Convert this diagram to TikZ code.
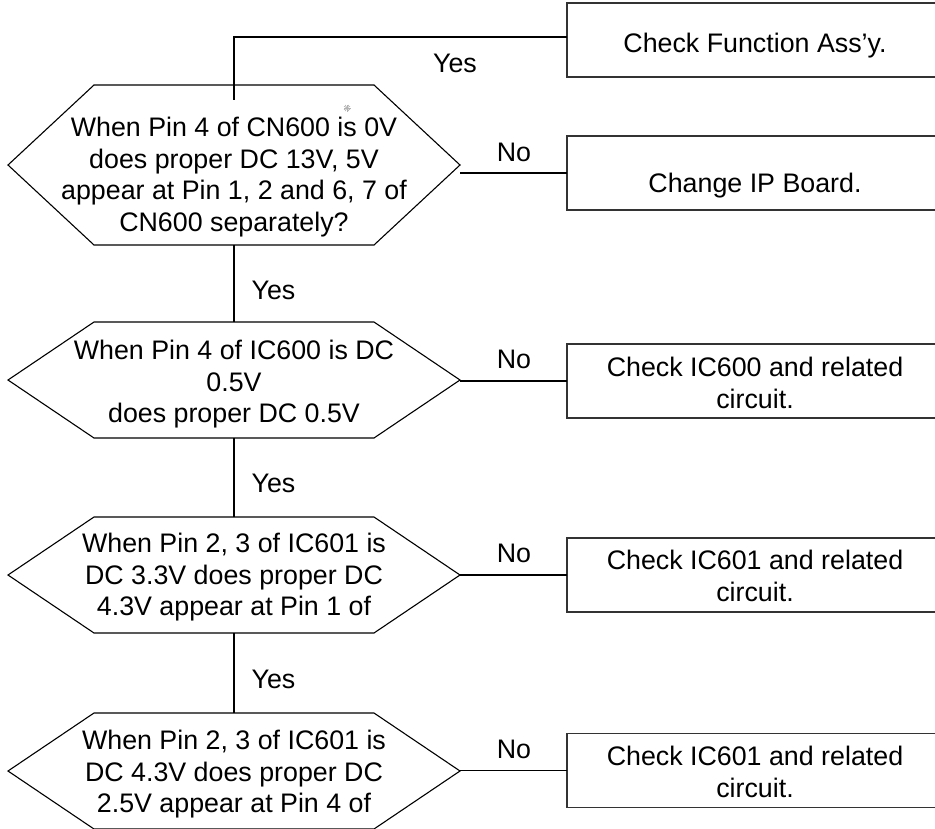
\documentclass[tikz,border=0pt]{standalone}
\usepackage{fontspec}
\setmainfont{Liberation Sans}
\usetikzlibrary{calc}
\newcommand{\hexshape}[1]{%
  \draw[hexline] (#1.west) -- ($(#1.north west)+(86,0)$) -- ($(#1.north east)+(-86,0)$) -- (#1.east)
    -- ($(#1.south east)+(-86,0)$) -- ($(#1.south west)+(86,0)$) -- cycle;}
\begin{document}
\begin{tikzpicture}[x=1pt,y=-1pt,
  hexbox/.style={minimum width=452pt, inner sep=0pt, outer sep=0pt},
  hexline/.style={draw=black, line width=1.1pt, line join=miter},
  actbox/.style={draw=black!80, line width=1.4pt, minimum width=376pt, minimum height=74pt, inner sep=0pt, outer sep=0pt},
  txt/.style={font=\fontsize{26.8pt}{31.5pt}\selectfont, align=center, inner sep=0pt, anchor=north},
  lbl/.style={font=\fontsize{26.8pt}{31.5pt}\selectfont, inner sep=0pt, anchor=base},
  conn/.style={draw=black, line width=1.1pt}]
\useasboundingbox (0,0) rectangle (935,828);

% decision shapes
\node[hexbox, minimum height=160pt] (h1) at (234,165) {};
\node[hexbox, minimum height=116pt] (h2) at (234,380) {};
\node[hexbox, minimum height=116pt] (h3) at (234,575) {};
\node[hexbox, minimum height=116pt] (h4) at (234,771) {};
\hexshape{h1}\hexshape{h2}\hexshape{h3}\hexshape{h4}

% action boxes
\node[actbox] (b1) at (755,40) {};
\node[actbox] (b2) at (755,173) {};
\node[actbox] (b3) at (755,381) {};
\node[actbox] (b4) at (755,575) {};
\node[actbox] (b5) at (755,770.5) {};

% texts
\node[txt] (t1) at (234,117) {When Pin 4 of CN600 is 0V\\does proper DC 13V, 5V\\appear at Pin 1, 2 and 6, 7 of\\CN600 separately?};
\node[txt] (t2) at (234,340) {When Pin 4 of IC600 is DC\\0.5V\\does proper DC 0.5V};
\node[txt] (t3) at (234,533) {When Pin 2, 3 of IC601 is\\DC 3.3V does proper DC\\4.3V appear at Pin 1 of};
\node[txt] (t4) at (234,730) {When Pin 2, 3 of IC601 is\\DC 4.3V does proper DC\\2.5V appear at Pin 4 of};
\node[txt] (tb1) at (755,32.5) {Check Function Ass'y.};
\node[txt] (tb2) at (755,173) {Change IP Board.};
\node[txt] (tb3) at (755,357) {Check IC600 and related\\circuit.};
\node[txt] (tb4) at (755,550) {Check IC601 and related\\circuit.};
\node[txt] (tb5) at (755,746) {Check IC601 and related\\circuit.};

% small grey mark
\coordinate (mk) at (347,108);
\foreach \a in {0,30,...,330} \draw[gray!60, line width=0.6pt] (mk) -- ++(\a:3.5);

% connectors
\draw[conn] ([yshift=3pt]b1.west) -| ([yshift=-15pt]h1.north);
\draw[conn] (h1.south) -- (h2.north);
\draw[conn] (h2.south) -- (h3.north);
\draw[conn] (h3.south) -- (h4.north);
\draw[conn] (b2.west) -- (b2.west -| h1.east);
\draw[conn] (b3.west) -- (b3.west -| h2.east);
\draw[conn] (b4.west) -- (b4.west -| h3.east);
\draw[conn] (b5.west) -- (b5.west -| h4.east);

% labels
\node[lbl] (y1) at (455,72.9) {Yes};
\node[lbl] (y2) at (273.5,299.6) {Yes};
\node[lbl] (y3) at (273.5,492.6) {Yes};
\node[lbl] (y4) at (273.5,688.6) {Yes};
\node[lbl] (n1) at (514,161.6) {No};
\node[lbl] (n2) at (514,368.6) {No};
\node[lbl] (n3) at (514,562.6) {No};
\node[lbl] (n4) at (514,758.6) {No};
\end{tikzpicture}
\end{document}
